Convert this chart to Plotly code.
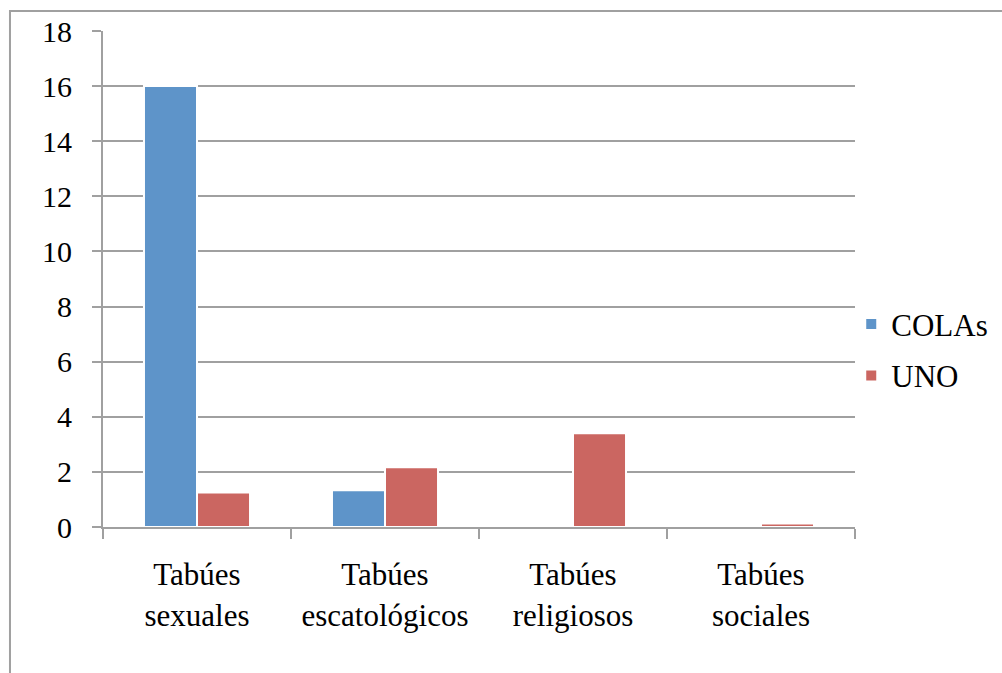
import plotly.graph_objects as go

categories = ["Tabúes<br>sexuales", "Tabúes<br>escatológicos", "Tabúes<br>religiosos", "Tabúes<br>sociales"]
colas = [16, 1.33, 0, 0]
uno = [1.25, 2.17, 3.4, 0.13]
y_ticks = [0, 2, 4, 6, 8, 10, 12, 14, 16, 18]

grid = "#A0A0A0"
SERIF = "Liberation Serif"


def text_font(size=31):
    return dict(family=SERIF, size=size, color="black")


fig = go.Figure()
fig.add_trace(go.Bar(name="COLAs", x=categories, y=colas, legendgroup="a",
                     marker=dict(color="#5E94C9", line=dict(color="white", width=2))))
fig.add_trace(go.Bar(name="UNO", x=categories, y=uno, legendgroup="b",
                     marker=dict(color="#CB6661", line=dict(color="white", width=2))))

fig.update_layout(
    template="none",
    width=1002, height=673,
    margin=dict(l=103, r=147, t=31, b=146, autoexpand=False),
    paper_bgcolor="white", plot_bgcolor="white",
    font=text_font(),
    barmode="group", bargap=0.436, bargroupgap=0,
    showlegend=True,
    legend=dict(x=0.995, xanchor="left", y=0.357, yanchor="middle",
                tracegroupgap=8, traceorder="grouped",
                font=text_font(31), bgcolor="rgba(0,0,0,0)"),
)
fig.update_xaxes(showgrid=False, showline=True, linecolor=grid, linewidth=2,
                 ticks="outside", tickson="boundaries", ticklen=10, tickcolor=grid, tickwidth=2,
                 ticklabelstandoff=19, tickfont=text_font(31))
fig.update_yaxes(range=[0, 18], tickvals=y_ticks, showgrid=True, gridcolor=grid, gridwidth=2,
                 showline=True, linecolor=grid, linewidth=2, zeroline=False,
                 ticks="outside", ticklen=9, tickcolor=grid, tickwidth=2,
                 ticklabelstandoff=14, tickfont=text_font(30))
fig.add_shape(type="rect", xref="paper", yref="paper",
              x0=-0.1237, x1=1.6, y0=-0.6, y1=1.0403,
              line=dict(color=grid, width=2), fillcolor="rgba(0,0,0,0)", layer="below")

fig.write_html("out.html")
